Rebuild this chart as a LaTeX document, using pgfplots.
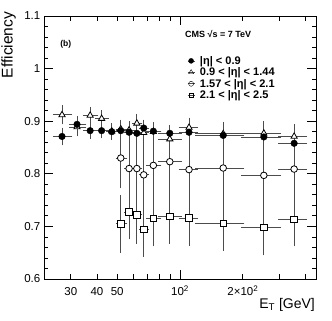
\documentclass[border=0pt]{standalone}
\usepackage{fontspec}
\setmainfont{Liberation Sans}
\usepackage{pgfplots}
\usepackage{pgfplotstable}
\pgfplotsset{compat=1.18}

\pgfplotstableread{
x xm xp y ey
27.2 2.2 2.8 0.871 0.014
32.1 2.1 2.9 0.894 0.013
37.1 2.1 2.9 0.882 0.013
42.1 2.1 2.9 0.882 0.012
47.1 2.1 2.9 0.880 0.012
52.0 2.0 3.0 0.882 0.012
57.0 2.0 3.0 0.879 0.012
62.1 2.1 2.9 0.877 0.012
67.0 2.0 3.0 0.887 0.013
74.5 4.5 5.5 0.881 0.012
89.3 9.3 10.7 0.877 0.012
110.4 10.4 9.6 0.879 0.013
161 41 39 0.873 0.015
252 52 48 0.870 0.016
352 52 48 0.858 0.018
}\tabA

\pgfplotstableread{
x xm xp y ey
27.2 2.2 2.8 0.912 0.015
32.1 2.1 2.9 0.889 0.015
37.1 2.1 2.9 0.911 0.013
42.1 2.1 2.9 0.905 0.013
47.1 2.1 2.9 0.881 0.013
52.0 2.0 3.0 0.885 0.015
57.0 2.0 3.0 0.883 0.015
62.1 2.1 2.9 0.896 0.015
67.0 2.0 3.0 0.878 0.018
74.5 4.5 5.5 0.880 0.015
89.3 9.3 10.7 0.866 0.018
110.4 10.4 9.6 0.888 0.016
161 41 39 0.876 0.020
252 52 48 0.877 0.020
352 52 48 0.871 0.020
}\tabB

\pgfplotstableread{
x xm xp y ey
52.0 2.0 3.0 0.830 0.055
57.0 2.0 3.0 0.810 0.055
62.1 2.1 2.9 0.810 0.055
67.0 2.0 3.0 0.798 0.060
74.5 4.5 5.5 0.816 0.055
89.3 9.3 10.7 0.823 0.055
110.4 10.4 9.6 0.808 0.055
161 41 39 0.811 0.055
252 52 48 0.797 0.055
352 52 48 0.809 0.050
}\tabC

\pgfplotstableread{
x xm xp y ey
52.0 2.0 3.0 0.705 0.052
57.0 2.0 3.0 0.727 0.049
62.1 2.1 2.9 0.722 0.052
67.0 2.0 3.0 0.694 0.049
74.5 4.5 5.5 0.715 0.050
89.3 9.3 10.7 0.719 0.049
110.4 10.4 9.6 0.716 0.050
161 41 39 0.706 0.049
252 52 48 0.698 0.050
352 52 48 0.713 0.048
}\tabD

\pgfplotsset{
  errstyle/.style={
    error bars/.cd,
      x dir=both, x explicit,
      y dir=both, y explicit,
      error bar style={black!70, line width=0.8pt},
      error mark options={black!70, line width=0.8pt, mark size=1.5pt},
  },
}

\begin{document}
\begin{tikzpicture}
\path[use as bounding box] (0pt,0pt) rectangle (332pt,321pt);
\begin{axis}[
  at={(44pt,42pt)}, anchor=south west,
  scale only axis, width=272pt, height=263pt,
  xmode=log, xmin=22.3, xmax=448, ymin=0.6, ymax=1.1,
  xtick={100}, xticklabels={10\textsuperscript{2}},
  minor xtick={30,40,50,60,70,80,90,200,300,400},
  extra x ticks={30,40,50,200},
  extra x tick labels={30,40,50,2\texttimes10\textsuperscript{2}},
  extra x tick style={major tick length=4.5pt},
  ytick={0.6,0.7,0.8,0.9,1,1.1},
  yticklabels={0.6,0.7,0.8,0.9,1,1.1},
  minor y tick num=4,
  tick align=inside,
  major tick length=9pt, minor tick length=4.5pt,
  axis line style={line width=0.8pt},
  every tick/.style={black, line width=0.8pt},
  xticklabel style={font=\fontsize{11.5}{13}\selectfont, inner sep=0pt, anchor=base, yshift=-16.7pt},
  yticklabel style={font=\fontsize{11.5}{13}\selectfont, inner sep=0pt, anchor=east, xshift=-3.5pt},
  legend style={at={(0.526,0.852)}, anchor=north west, draw=none, fill=none,
    font=\fontsize{11}{13}\selectfont\bfseries, inner sep=0pt,
    nodes={inner sep=1pt},
    /tikz/every odd column/.append style={column sep=4pt}},
  legend cell align=left,
  legend image code/.code={
    \draw[mark=none, black!70, line width=0.7pt] (-3.5pt,0pt) -- (3.5pt,0pt);
    \draw[#1] plot coordinates {(0pt,0pt)};
  },
  clip=false,
]
\addlegendimage{only marks, mark=*, mark size=2.5pt, black}
\addlegendimage{only marks, mark=triangle, mark size=2.8pt, black}
\addlegendimage{only marks, mark=o, mark size=2.5pt, black}
\addlegendimage{only marks, mark=square, mark size=2.4pt, black}
\legend{{|η| < 0.9},{0.9 < |η| < 1.44},{1.57 < |η| < 2.1},{2.1 < |η| < 2.5}}

\addplot[forget plot, only marks, mark=square*, mark size=3.3pt, mark options={fill=white, draw=black, line width=0.8pt}, errstyle]
  table[x=x, y=y, x error minus=xm, x error plus=xp, y error=ey] {\tabD};
\addplot[forget plot, only marks, mark=*, mark size=3.3pt, mark options={fill=white, draw=black, line width=0.8pt}, errstyle]
  table[x=x, y=y, x error minus=xm, x error plus=xp, y error=ey] {\tabC};
\addplot[forget plot, only marks, mark=triangle*, mark size=3.6pt, mark options={fill=white, draw=black, line width=0.8pt}, errstyle]
  table[x=x, y=y, x error minus=xm, x error plus=xp, y error=ey] {\tabB};
\addplot[forget plot, only marks, mark=*, mark size=3.3pt, mark options={fill=black, draw=black}, errstyle]
  table[x=x, y=y, x error minus=xm, x error plus=xp, y error=ey] {\tabA};

\node[anchor=west, inner sep=0pt, font=\fontsize{9}{11}\selectfont\bfseries] at (rel axis cs:0.518,0.933) {CMS √s = 7 TeV};
\node[anchor=west, inner sep=0pt, font=\fontsize{8.5}{10}\selectfont\bfseries] at (rel axis cs:0.059,0.892) {(b)};
\node[anchor=north east, inner sep=0pt, font=\fontsize{14}{16}\selectfont] at (rel axis cs:1,0) [yshift=-19pt, xshift=-1pt] {E\textsubscript{T} [GeV]};
\node[anchor=south east, rotate=90, inner sep=0pt, font=\fontsize{15.5}{17}\selectfont] at (rel axis cs:-0.103,1.016) {Efficiency};
\end{axis}
\end{tikzpicture}
\end{document}
